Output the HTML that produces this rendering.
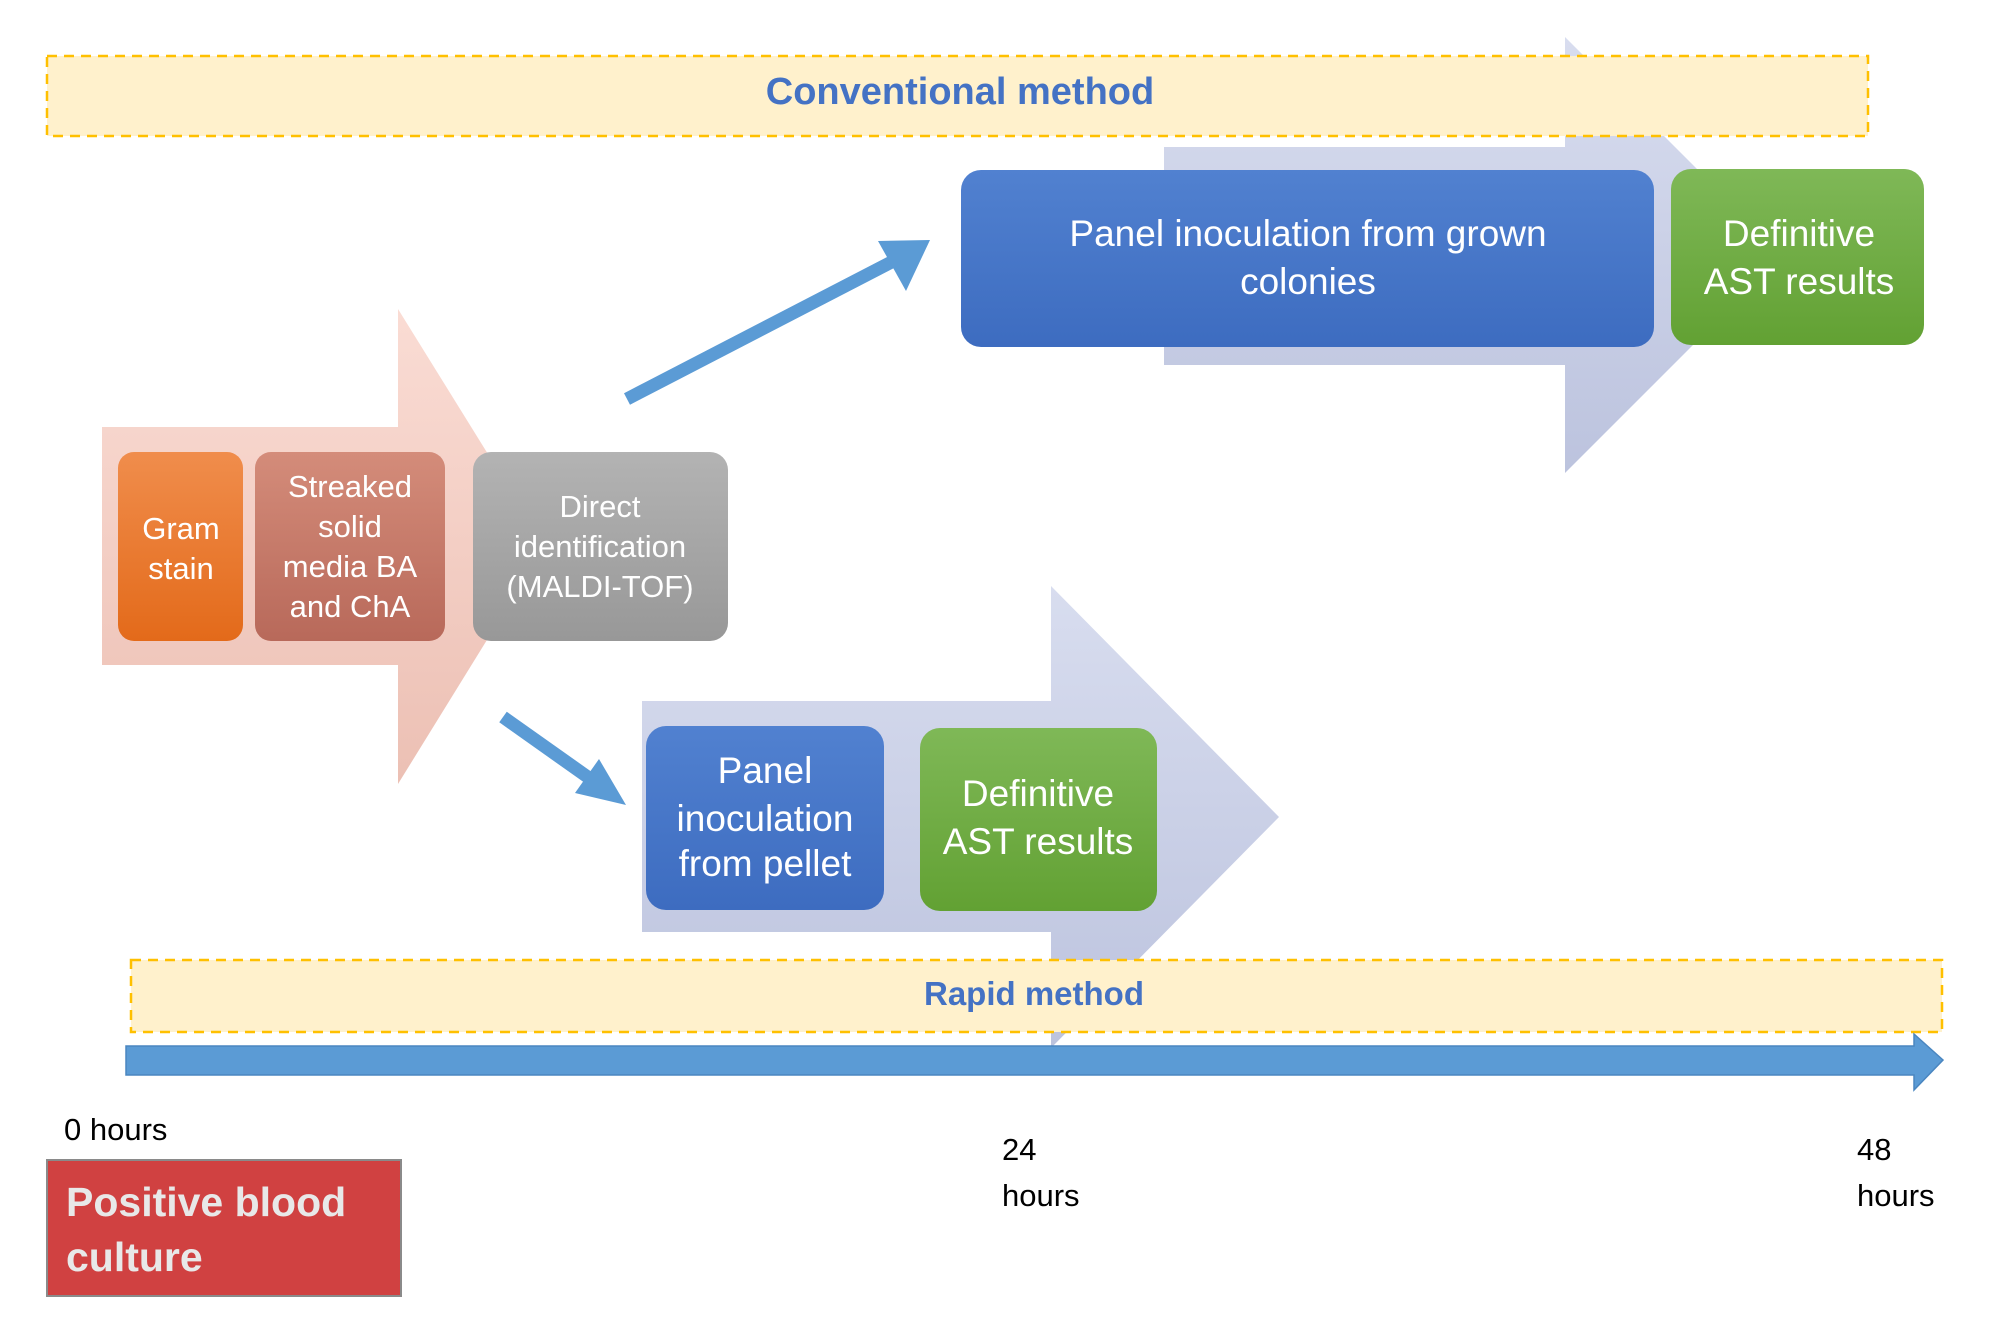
<!DOCTYPE html>
<html><head><meta charset="utf-8"><style>
html,body{margin:0;padding:0;background:#fff}
svg{display:block}
text{font-family:"Liberation Sans",sans-serif}
</style></head><body>
<svg width="2002" height="1318" viewBox="0 0 2002 1318" xmlns="http://www.w3.org/2000/svg">
<defs>
<linearGradient id="pink" x1="0" y1="0" x2="0" y2="1"><stop offset="0" stop-color="#fadcd4"/><stop offset="1" stop-color="#ecc0b4"/></linearGradient>
<linearGradient id="lav" x1="0" y1="0" x2="0" y2="1"><stop offset="0" stop-color="#d8ddef"/><stop offset="1" stop-color="#bcc3de"/></linearGradient>
<linearGradient id="org" x1="0" y1="0" x2="0" y2="1"><stop offset="0" stop-color="#f08d4c"/><stop offset="1" stop-color="#e36a1a"/></linearGradient>
<linearGradient id="brn" x1="0" y1="0" x2="0" y2="1"><stop offset="0" stop-color="#d48c7a"/><stop offset="1" stop-color="#b8695a"/></linearGradient>
<linearGradient id="gry" x1="0" y1="0" x2="0" y2="1"><stop offset="0" stop-color="#b3b3b3"/><stop offset="1" stop-color="#989898"/></linearGradient>
<linearGradient id="blu" x1="0" y1="0" x2="0" y2="1"><stop offset="0" stop-color="#5181d0"/><stop offset="1" stop-color="#3d6cc0"/></linearGradient>
<linearGradient id="grn" x1="0" y1="0" x2="0" y2="1"><stop offset="0" stop-color="#7fb857"/><stop offset="1" stop-color="#62a133"/></linearGradient>
</defs>

<!-- big background arrows -->
<polygon points="102,427 398,427 398,309 545,546 398,784 398,665 102,665" fill="url(#pink)"/>
<polygon points="1164,147 1565,147 1565,37 1783,255 1565,473 1565,365 1164,365" fill="url(#lav)"/>
<polygon points="642,701 1051,701 1051,586 1279,817 1051,1048 1051,932 642,932" fill="url(#lav)"/>

<!-- conventional box -->
<rect x="47" y="56" width="1821" height="80" fill="#fff1cc" stroke="#ffc000" stroke-width="2.5" stroke-dasharray="10,7"/>
<text x="960" y="104" font-size="38" font-weight="bold" fill="#4472c4" text-anchor="middle">Conventional  method</text>

<!-- left boxes -->
<rect x="118" y="452" width="125" height="189" rx="16" fill="url(#org)"/>
<text font-size="31" fill="#fff" text-anchor="middle"><tspan x="181" y="539">Gram</tspan><tspan x="181" y="579">stain</tspan></text>
<rect x="255" y="452" width="190" height="189" rx="16" fill="url(#brn)"/>
<text font-size="31" fill="#fff" text-anchor="middle"><tspan x="350" y="497">Streaked</tspan><tspan x="350" y="537">solid</tspan><tspan x="350" y="577">media BA</tspan><tspan x="350" y="617">and ChA</tspan></text>
<rect x="473" y="452" width="255" height="189" rx="18" fill="url(#gry)"/>
<text font-size="31" fill="#fff" text-anchor="middle"><tspan x="600" y="517">Direct</tspan><tspan x="600" y="557">identification</tspan><tspan x="600" y="597">(MALDI-TOF)</tspan></text>

<!-- connector arrows -->
<line x1="627" y1="399" x2="905" y2="255" stroke="#5b9bd5" stroke-width="13"/>
<polygon points="930,240 878,241 906,291" fill="#5b9bd5"/>
<line x1="503" y1="717" x2="606" y2="790" stroke="#5b9bd5" stroke-width="13"/>
<polygon points="626,805 599,759 575,793" fill="#5b9bd5"/>

<!-- conventional boxes -->
<rect x="961" y="170" width="693" height="177" rx="20" fill="url(#blu)"/>
<text font-size="37" fill="#fff" text-anchor="middle"><tspan x="1308" y="246">Panel inoculation from grown</tspan><tspan x="1308" y="294">colonies</tspan></text>
<rect x="1671" y="169" width="253" height="176" rx="20" fill="url(#grn)"/>
<text font-size="37" fill="#fff" text-anchor="middle"><tspan x="1799" y="246">Definitive</tspan><tspan x="1799" y="294">AST results</tspan></text>

<!-- rapid boxes -->
<rect x="646" y="726" width="238" height="184" rx="20" fill="url(#blu)"/>
<text font-size="37" fill="#fff" text-anchor="middle"><tspan x="765" y="783">Panel</tspan><tspan x="765" y="831">inoculation</tspan><tspan x="765" y="876">from pellet</tspan></text>
<rect x="920" y="728" width="237" height="183" rx="20" fill="url(#grn)"/>
<text font-size="37" fill="#fff" text-anchor="middle"><tspan x="1038" y="806">Definitive</tspan><tspan x="1038" y="854">AST results</tspan></text>

<!-- rapid method box -->
<rect x="131" y="960" width="1811" height="72" fill="#fff1cc" stroke="#ffc000" stroke-width="2.5" stroke-dasharray="10,7"/>
<text x="1034" y="1005" font-size="33" font-weight="bold" fill="#4472c4" text-anchor="middle">Rapid  method</text>

<!-- timeline -->
<polygon points="126,1046 1914,1046 1914,1034 1943,1060 1914,1090 1914,1075 126,1075" fill="#5b9bd5" stroke="#4a86c0" stroke-width="1.5"/>

<text x="64" y="1140" font-size="31" fill="#000">0 hours</text>
<text font-size="31" fill="#000"><tspan x="1002" y="1160">24</tspan><tspan x="1002" y="1206">hours</tspan></text>
<text font-size="31" fill="#000"><tspan x="1857" y="1160">48</tspan><tspan x="1857" y="1206">hours</tspan></text>

<rect x="47" y="1160" width="354" height="136" fill="#d04141" stroke="#8a8a8a" stroke-width="2"/>
<text font-size="41" font-weight="bold" fill="#e8e8e8"><tspan x="66" y="1216">Positive blood</tspan><tspan x="66" y="1271">culture</tspan></text>
</svg>
</body></html>
